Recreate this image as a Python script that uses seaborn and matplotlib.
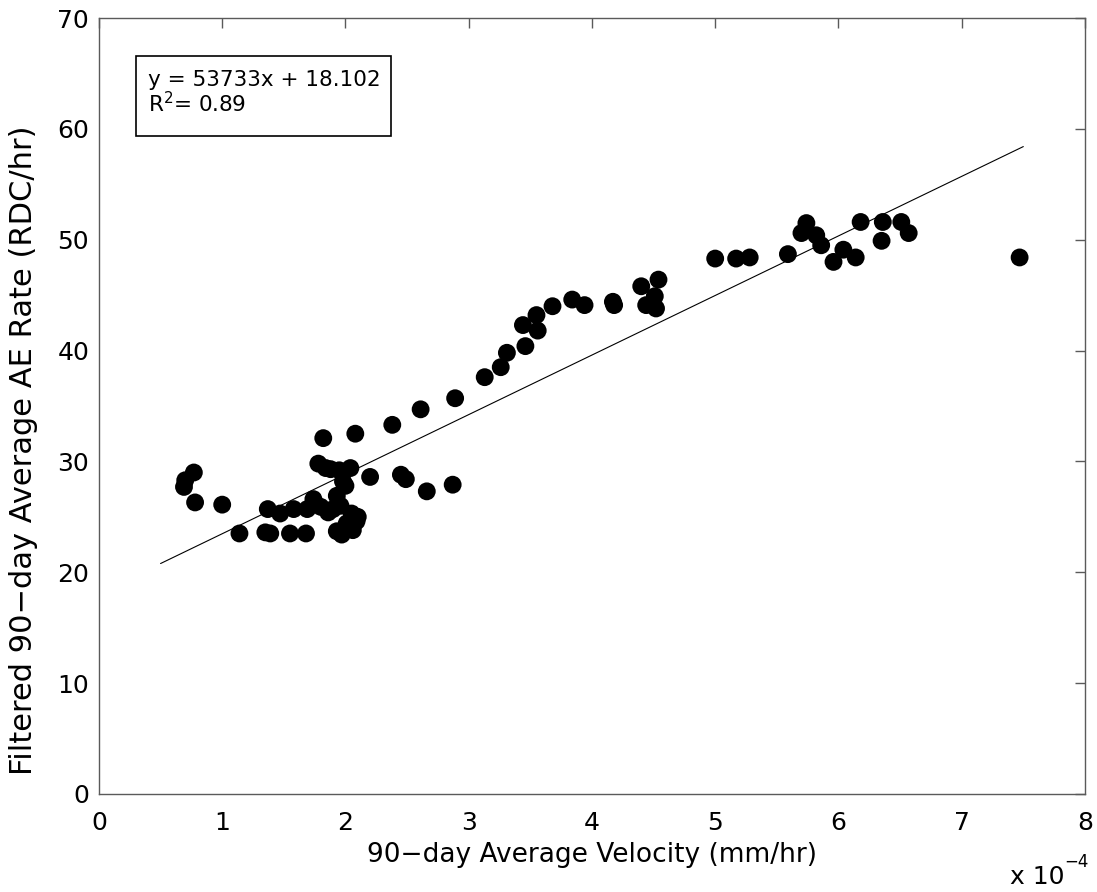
import numpy as np
import pandas as pd
import matplotlib
matplotlib.use("Agg")
import matplotlib.pyplot as plt
from matplotlib.patches import Rectangle
import seaborn as sns

# velocity in units of 1e-4 mm/hr
velocity = [0.70, 0.69, 0.77, 0.78, 1.00, 1.14, 1.35, 1.39, 1.55, 1.68,
            1.37, 1.47, 1.58, 1.69, 1.74, 1.82, 2.08, 1.78, 1.84, 2.04,
            1.98, 2.20, 1.93, 1.90, 2.10, 2.01, 1.93, 2.06, 1.88, 1.95,
            2.00, 1.96, 1.80, 1.86, 2.05, 2.09, 1.97,
            2.38, 2.61, 2.89, 3.13, 3.26, 3.31, 3.46, 3.44, 3.55, 3.56,
            3.68, 3.84, 3.94, 4.17, 4.18, 4.40, 4.54, 4.44, 4.51, 4.52,
            2.45, 2.49, 2.66, 2.87,
            5.00, 5.17, 5.28, 5.59, 5.74, 5.70, 5.82, 5.86, 5.96, 6.04,
            6.14, 6.18, 6.35, 6.36, 6.51, 6.57, 7.47]
ae_rate = [28.3, 27.7, 29.0, 26.3, 26.1, 23.5, 23.6, 23.5, 23.5, 23.5,
           25.7, 25.3, 25.7, 25.7, 26.6, 32.1, 32.5, 29.8, 29.4, 29.4,
           28.2, 28.6, 26.9, 25.7, 25.0, 24.4, 23.7, 23.8, 29.3, 29.2,
           27.8, 26.0, 25.9, 25.4, 25.3, 24.6, 23.4,
           33.3, 34.7, 35.7, 37.6, 38.5, 39.8, 40.4, 42.3, 43.2, 41.8,
           44.0, 44.6, 44.1, 44.4, 44.1, 45.8, 46.4, 44.1, 44.9, 43.8,
           28.8, 28.4, 27.3, 27.9,
           48.3, 48.3, 48.4, 48.7, 51.5, 50.6, 50.4, 49.5, 48.0, 49.1,
           48.4, 51.6, 49.9, 51.6, 51.6, 50.6, 48.4]

# fitted line: y = 53733 x + 18.102 (x in mm/hr)
slope = 53733e-4   # per 1e-4 mm/hr
intercept = 18.102
fit_x = [0.5, 7.5]
x_ticks = [0, 1, 2, 3, 4, 5, 6, 7, 8]
y_ticks = [0, 10, 20, 30, 40, 50, 60, 70]

df = pd.DataFrame({"v": velocity, "ae": ae_rate})
fit_df = pd.DataFrame({"v": fit_x, "ae": [slope * x + intercept for x in fit_x]})

sns.set_style("white")
plt.rcParams['font.family'] = ['DejaVu Sans']
plt.rcParams['mathtext.fontset'] = 'dejavusans'
plt.rcParams['text.color'] = 'black'
plt.rcParams['axes.labelcolor'] = 'black'

fig = plt.figure(figsize=(10.97, 8.92), dpi=100)
ax = fig.add_axes([0.0902, 0.1099, 0.8988, 0.8699])

sns.lineplot(data=fit_df, x="v", y="ae", ax=ax, color="black", linewidth=0.8)
sns.scatterplot(data=df, x="v", y="ae", ax=ax, color="black", s=165,
                linewidth=0, edgecolor="none", zorder=3)

ax.set_xlim(0, 8)
ax.set_ylim(0, 70)
ax.set_xticks(x_ticks)
ax.set_yticks(y_ticks)
ax.set_xticklabels([str(t) for t in x_ticks])
ax.set_yticklabels([str(t) for t in y_ticks])

spine_color = "#5a5a5a"
for s in ax.spines.values():
    s.set_visible(True)
    s.set_color(spine_color)
    s.set_linewidth(1.0)
ax.tick_params(axis="both", direction="in", length=7, width=1.0,
               color=spine_color, labelcolor="black", labelsize=18,
               top=True, right=True)
ax.tick_params(axis="x", pad=12)
ax.tick_params(axis="y", pad=7)

ax.set_xlabel("90\u2212day Average Velocity (mm/hr)", fontsize=19,
              labelpad=5, color="black")
ax.set_ylabel("Filtered 90\u2212day Average AE Rate (RDC/hr)", fontsize=22,
              color="black")
ax.yaxis.set_label_coords(-0.062, 0.443)

# equation box
ax.add_patch(Rectangle((0.0375, 0.848), 0.2585, 0.103, transform=ax.transAxes,
                       fill=True, facecolor="white", edgecolor="black",
                       linewidth=1.2, zorder=4))
ax.text(0.0497, 0.913, "y = 53733x + 18.102", transform=ax.transAxes,
        fontsize=15.5, va="baseline", color="black", zorder=5)
ax.text(0.0497, 0.878, "R$^{2}$= 0.89", transform=ax.transAxes,
        fontsize=15.5, va="baseline", color="black", zorder=5)

fig.text(1010 / 1097, 1 - 884 / 892, "x 10", fontsize=18, va="baseline",
         color="black")
fig.text(1064 / 1097, 1 - 867 / 892, "\u22124", fontsize=12, va="baseline",
         color="black")

fig.savefig("out.png", dpi=100)
